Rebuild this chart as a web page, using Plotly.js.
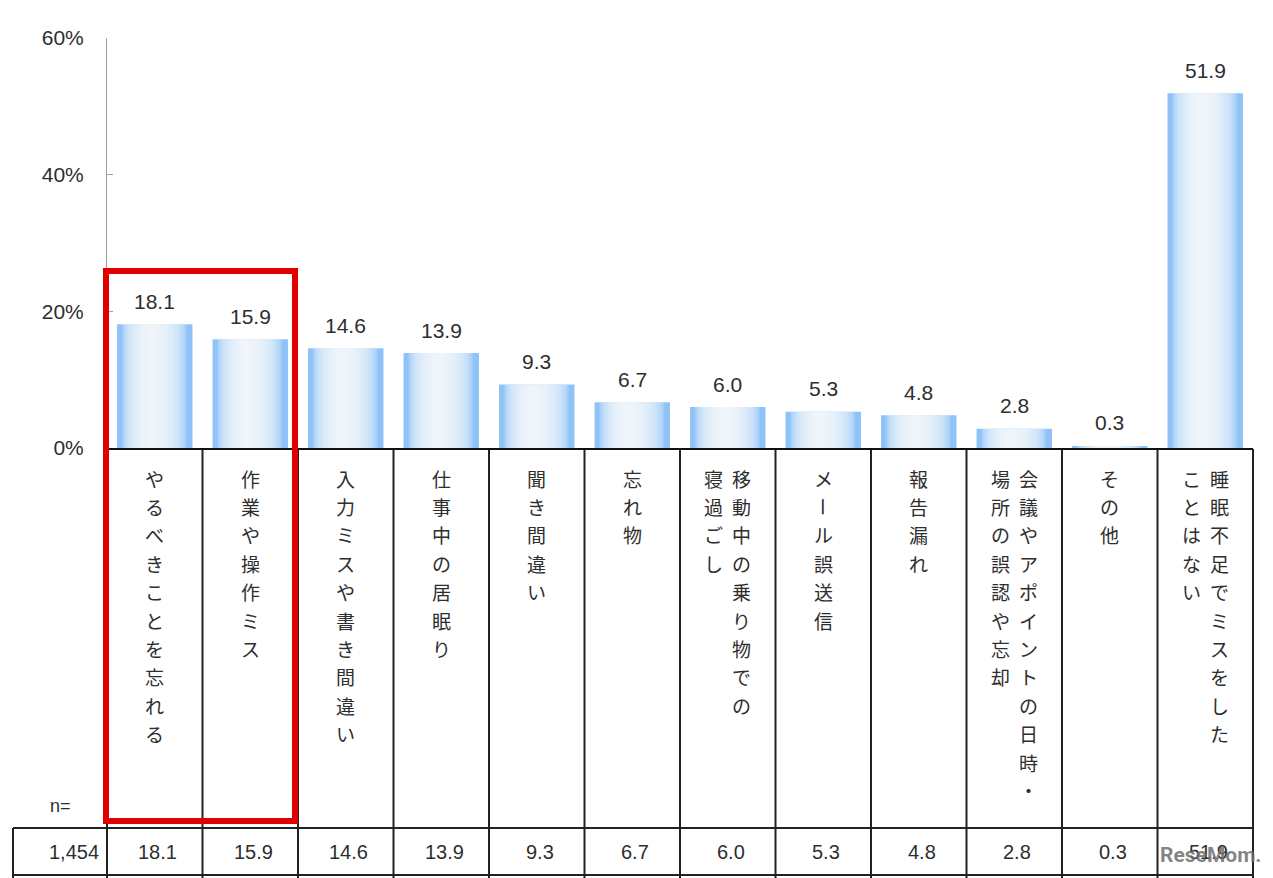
<!DOCTYPE html>
<html>
<head>
<meta charset="utf-8">
<script src="https://cdn.plot.ly/plotly-3.0.1.min.js"></script>
<style>html,body{margin:0;padding:0;background:#fff;}#chart{width:1273px;height:878px;}</style>
</head>
<body>
<div id="chart"></div>
<script>
// ---- data ----
const categories = [
  'やるべきことを忘れる', '作業や操作ミス', '入力ミスや書き間違い', '仕事中の居眠り',
  '聞き間違い', '忘れ物', '移動中の乗り物での寝過ごし', 'メール誤送信', '報告漏れ',
  '会議やアポイントの日時・場所の誤認や忘却', 'その他', '睡眠不足でミスをしたことはない'
];
// how each label wraps into vertical columns (first = right-most column)
const labelColumns = [
  ['やるべきことを忘れる'], ['作業や操作ミス'], ['入力ミスや書き間違い'], ['仕事中の居眠り'],
  ['聞き間違い'], ['忘れ物'], ['移動中の乗り物での', '寝過ごし'], ['メール誤送信'], ['報告漏れ'],
  ['会議やアポイントの日時・', '場所の誤認や忘却'], ['その他'], ['睡眠不足でミスをした', 'ことはない']
];
const values = [18.1, 15.9, 14.6, 13.9, 9.3, 6.7, 6.0, 5.3, 4.8, 2.8, 0.3, 51.9];
const nLabel = 'n=';
const nValue = '1,454';
const yTickVals = [0, 20, 40, 60];
const yTickText = ['0%', '20%', '40%', '60%'];

// ---- layout geometry ----
const W = 1273, H = 878;
const mL = 107, mR = 20, mT = 38, mB = 430;
const pw = W - mL - mR, ph = H - mT - mB;
const px2x = px => (px - mL) / pw;         // pixel -> paper x
const py2y = py => (H - mB - py) / ph;      // pixel -> paper y
const numFont = 'Liberation Sans, Arial, sans-serif';
const jpFont = 'Noto Sans CJK JP, sans-serif';
const txtColor = '#2e2e2e';
const nCat = categories.length;
const catW = pw / nCat;

// ---- bars with gradient (stacked translucent white layers) ----
const BW = 0.79, focus = 0.45, NL = 16, alpha = 0.13;
const baseColor = '#8fc3f7';
const traces = [{
  type: 'bar', x: categories, y: values, width: BW,
  marker: {color: baseColor, line: {width: 0}}, hoverinfo: 'skip', showlegend: false
}];
const c = -BW / 2 + focus * BW;
for (let k = 1; k <= NL; k++) {
  const s = 0.12 + 0.86 * Math.pow(k / (NL + 1), 1.4);
  const w = BW * (1 - s);
  const off = c - focus * BW * (1 - s);
  traces.push({
    type: 'bar', x: categories, y: values,
    width: categories.map(() => w), offset: categories.map(() => off),
    marker: {color: 'rgba(255,255,255,' + alpha + ')', line: {width: 0}},
    hoverinfo: 'skip', showlegend: false
  });
}

// ---- annotations ----
const annotations = [];
// value labels above bars
values.forEach((v, i) => {
  annotations.push({
    x: categories[i], y: v, xref: 'x', yref: 'y', text: v.toFixed(1), showarrow: false,
    xanchor: 'center', yanchor: 'middle', yshift: 23, font: {family: numFont, size: 21, color: txtColor}
  });
});
// vertical category labels
const charStep = 28.4, firstCharY = 478, colGap = 28;
labelColumns.forEach((cols, i) => {
  const cx = mL + (i + 0.5) * catW;
  const nc = cols.length;
  cols.forEach((col, j) => {
    const colX = cx + ((nc - 1) / 2 - j) * colGap;
    Array.from(col).forEach((ch, m) => {
      annotations.push({
        x: px2x(colX), y: py2y(firstCharY + m * charStep), xref: 'paper', yref: 'paper',
        text: ch, showarrow: false, xanchor: 'center', yanchor: 'middle',
        textangle: ch === 'ー' ? 90 : 0,
        font: {family: jpFont, size: 19, color: txtColor}
      });
    });
  });
});
// table row
annotations.push({x: px2x(60), y: py2y(806), xref: 'paper', yref: 'paper', text: nLabel,
  showarrow: false, xanchor: 'center', yanchor: 'middle', font: {family: numFont, size: 18, color: txtColor}});
annotations.push({x: px2x(101), y: py2y(852), xref: 'paper', yref: 'paper', text: nValue,
  showarrow: false, xanchor: 'right', yanchor: 'middle', font: {family: numFont, size: 20, color: txtColor}});
values.forEach((v, i) => {
  annotations.push({x: px2x(mL + (i + 0.5) * catW + 3), y: py2y(852), xref: 'paper', yref: 'paper',
    text: v.toFixed(1), showarrow: false, xanchor: 'center', yanchor: 'middle',
    font: {family: numFont, size: 20, color: txtColor}});
});
// watermark
annotations.push({x: px2x(1210), y: py2y(855), xref: 'paper', yref: 'paper', text: '<b>ReseMom.</b>',
  showarrow: false, xanchor: 'center', yanchor: 'middle',
  font: {family: 'Liberation Sans Narrow, Roboto, sans-serif', size: 21, color: 'rgba(110,110,110,0.85)'}});

// ---- shapes (table grid + highlight box) ----
const shapes = [];
const lineCol = '#222222';
function seg(x0, y0, x1, y1, color, width) {
  shapes.push({type: 'line', xref: 'paper', yref: 'paper',
    x0: px2x(x0), y0: py2y(y0), x1: px2x(x1), y1: py2y(y1),
    line: {color: color, width: width}, layer: 'above'});
}
for (let k = 0; k <= nCat; k++) {
  const x = mL + k * catW;
  seg(x, 449, x, 878, lineCol, 2);
}
seg(mL, 449, mL + pw, 449, '#111', 2);
seg(13, 828, mL + pw, 828, lineCol, 2);
seg(13, 875, mL + pw, 875, lineCol, 2);
seg(13, 828, 13, 878, lineCol, 2);
// red highlight rectangle
shapes.push({type: 'rect', xref: 'paper', yref: 'paper',
  x0: px2x(106), x1: px2x(295), y0: py2y(821), y1: py2y(271),
  line: {color: '#e00000', width: 6}, fillcolor: 'rgba(0,0,0,0)', layer: 'above'});

const layout = {
  width: W, height: H,
  margin: {l: mL, r: mR, t: mT, b: mB, pad: 0},
  paper_bgcolor: '#ffffff', plot_bgcolor: '#ffffff',
  barmode: 'overlay', showlegend: false,
  xaxis: {type: 'category', showticklabels: false, ticks: '', showgrid: false, zeroline: false,
    showline: false, range: [-0.5, nCat - 0.5], fixedrange: true},
  yaxis: {range: [0, 60], tickvals: yTickVals, ticktext: yTickText, showgrid: false, zeroline: false,
    showline: true, linecolor: '#a0a0a0', linewidth: 1, ticks: 'inside', ticklen: 6, tickcolor: '#a0a0a0',
    ticklabelstandoff: 18,
    tickfont: {family: numFont, size: 21, color: txtColor}, fixedrange: true},
  annotations: annotations, shapes: shapes
};
Plotly.newPlot('chart', traces, layout, {displayModeBar: false, staticPlot: true});
</script>
</body>
</html>
